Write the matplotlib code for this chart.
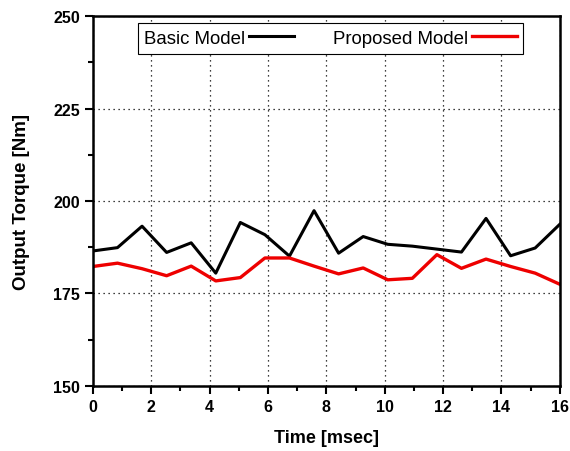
import numpy as np
import matplotlib
matplotlib.use("Agg")
import matplotlib.pyplot as plt
from matplotlib.ticker import MultipleLocator

# time samples (20 points over 0..16 msec)
time_ms = np.linspace(0, 16, 20)

basic_model = [186.5, 187.4, 193.2, 186.1, 188.7, 180.5, 194.2, 190.9, 185.1, 197.4,
               185.9, 190.4, 188.3, 187.8, 187.0, 186.2, 195.3, 185.2, 187.3, 193.7]
proposed_model = [182.3, 183.2, 181.7, 179.8, 182.4, 178.4, 179.3, 184.6, 184.6, 182.4,
                  180.3, 181.9, 178.7, 179.1, 185.5, 181.8, 184.3, 182.3, 180.5, 177.5]

plt.rcParams['font.family'] = ['Liberation Sans', 'DejaVu Sans']

fig = plt.figure(figsize=(5.7, 4.52), dpi=100)
ax = fig.add_axes([0.163, 0.144, 0.819, 0.818])

ax.plot(time_ms, basic_model, color='black', lw=2.2, label='Basic Model')
ax.plot(time_ms, proposed_model, color='#ee0000', lw=2.4, label='Proposed Model')

ax.set_xlim(0, 16)
ax.set_ylim(150, 250)
ax.xaxis.set_major_locator(MultipleLocator(2))
ax.xaxis.set_minor_locator(MultipleLocator(1))
ax.yaxis.set_major_locator(MultipleLocator(25))
ax.yaxis.set_minor_locator(MultipleLocator(12.5))
ax.grid(True, which='major', color='black', linestyle=(0, (1, 3)), lw=0.9)

for s in ax.spines.values():
    s.set_linewidth(1.8)
ax.tick_params(which='major', direction='out', length=5.8, width=1.5,
               labelsize=11.5, pad=3.5)
ax.tick_params(which='minor', direction='out', length=3.6, width=1.5)
for lbl in ax.get_xticklabels() + ax.get_yticklabels():
    lbl.set_fontweight('bold')

ax.set_xlabel('Time [msec]', fontsize=13, fontweight='bold', labelpad=11)
ax.set_ylabel('Output Torque [Nm]', fontsize=13.5, fontweight='bold', labelpad=16.5)

leg = ax.legend(loc='upper center', bbox_to_anchor=(0.509, 0.981), ncol=2,
                markerfirst=False, fontsize=13.4, frameon=True, fancybox=False,
                edgecolor='black', framealpha=1, handlelength=2.4,
                columnspacing=2.1, borderpad=0.36, handletextpad=0.2,
                borderaxespad=0)
leg.get_frame().set_linewidth(0.8)

fig.savefig('out.png', dpi=100)
